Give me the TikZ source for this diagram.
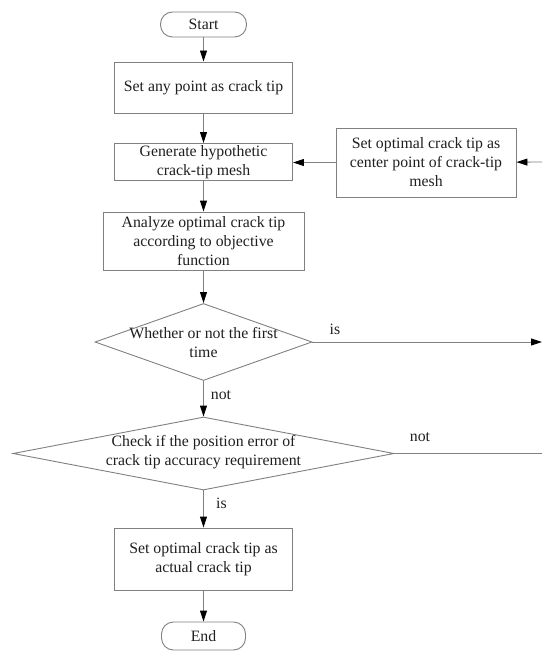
\documentclass[tikz,border=0pt]{standalone}
\usepackage{fontspec}
\setmainfont{Liberation Serif}
\usetikzlibrary{arrows.meta,shapes.geometric}
\begin{document}
\begin{tikzpicture}[x=1pt,y=-1pt,
  every node/.style={font=\fontsize{15.8}{19}\selectfont, text=black!88},
  box/.style={draw=black!50, line width=0.9pt, rectangle, align=center, inner sep=0pt},
  term/.style={draw=black!50, line width=0.9pt, rectangle, rounded corners=12pt, inner sep=0pt},
  dia/.style={draw=black!50, line width=0.9pt, diamond, inner sep=0pt},
  plain/.style={draw=black!50, line width=0.9pt},
  conn/.style={draw=black!50, line width=0.9pt, -{Triangle[length=11pt,width=7pt,color=black]}},
  lbl/.style={inner sep=0pt}
]
\useasboundingbox (0,0) rectangle (542,655);

\node[term, minimum width=86pt, minimum height=25pt] (start) at (203.5,24.5) {Start};
\node[box, minimum width=178pt, minimum height=51pt] (b1) at (203.5,87.5) {Set any point as crack tip};
\node[box, minimum width=178pt, minimum height=37pt] (b2) at (203.5,162) {Generate hypothetic\\crack-tip mesh};
\node[box, minimum width=180pt, minimum height=69pt] (b5) at (426,162.5) {Set optimal crack tip as\\center point of crack-tip\\mesh};
\node[box, minimum width=201pt, minimum height=58pt] (b3) at (203.5,241) {Analyze optimal crack tip\\according to objective\\function};
\node[dia, minimum width=217pt, minimum height=77pt] (d1) at (203.5,342) {};
\node[align=center, inner sep=0pt] (t1) at (203.5,343) {Whether or not the first\\time};
\node[dia, minimum width=381pt, minimum height=73pt] (d2) at (203.5,453.5) {};
\node[align=center, inner sep=0pt] (t2) at (203.5,452) {Check if the position error of\\crack tip accuracy requirement};
\node[box, minimum width=178pt, minimum height=62pt] (b4) at (203.5,559) {Set optimal crack tip as\\actual crack tip};
\node[term, minimum width=84pt, minimum height=28pt] (end) at (203.5,636) {End};

\coordinate (fin) at (542,162);
\coordinate (isend) at (542,342);
\coordinate (notend) at (542,453.5);

\draw[conn] (start) -- (b1);
\draw[conn] (b1) -- (b2);
\draw[conn] (b2) -- (b3);
\draw[conn] (fin) -- (b5);
\draw[conn] (b5.west) -- (b5.west -| b2.east);
\draw[conn] (b3) -- (d1);
\draw[conn] (d1.east) -- (isend);
\draw[conn] (d1) -- (d2);
\draw[plain] (d2.east) -- (notend);
\draw[conn] (d2) -- (b4);
\draw[conn] (b4) -- (end);

\node[lbl] (lis1) at (335,329) {is};
\node[lbl] (lnot1) at (221,395) {not};
\node[lbl] (lnot2) at (420,437) {not};
\node[lbl] (lis2) at (221.5,503) {is};
\end{tikzpicture}
\end{document}
